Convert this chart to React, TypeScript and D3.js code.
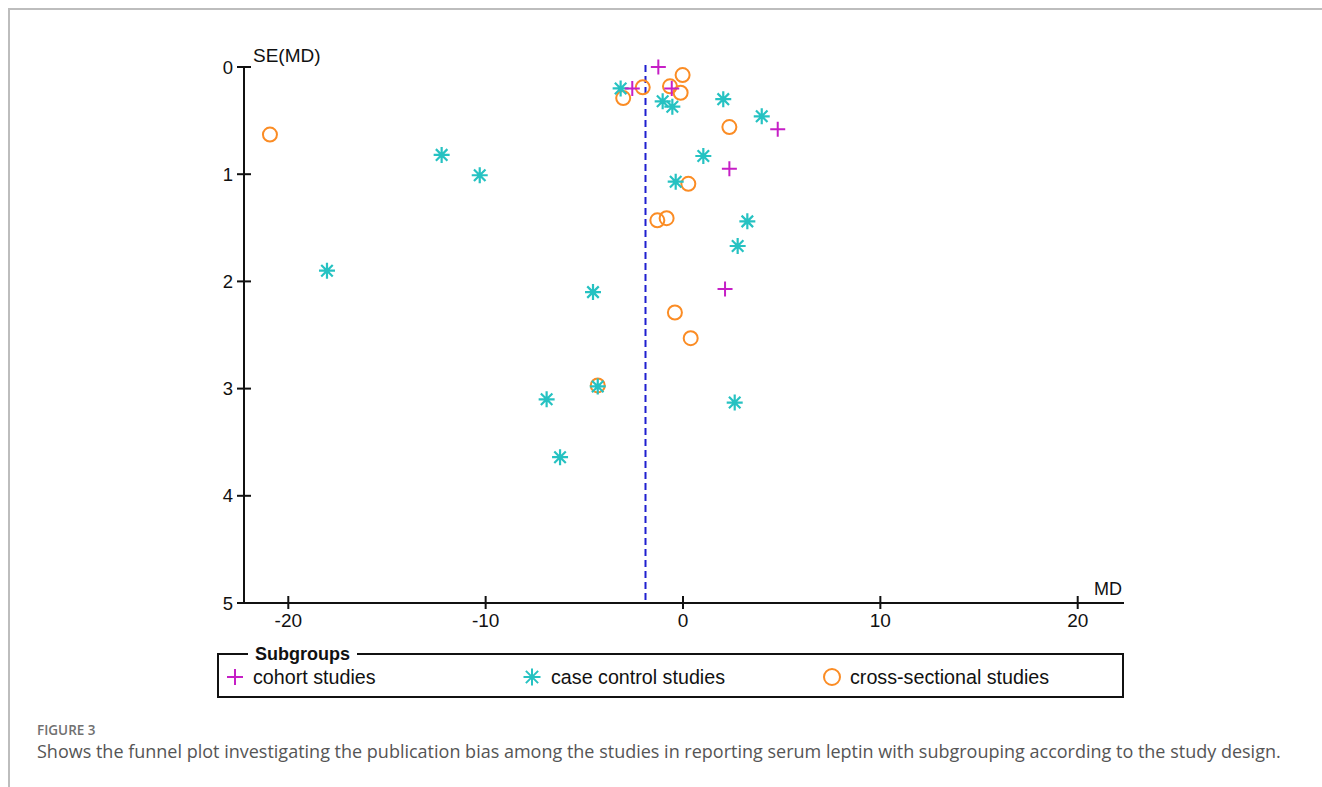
import React from 'react';
import * as d3 from 'd3';

// MD and SE(MD), one array per subgroup
const cohortMD = [-1.25, -2.57, -0.57, 4.8, 2.35, 2.13];
const cohortSE = [0.0, 0.2, 0.2, 0.58, 0.95, 2.07];

const caseMD = [-3.16, -1.03, -0.54, 2.04, 3.99, -12.23, -10.3, 1.03, -0.37, 3.26, 2.77, -18.04, -4.56, -4.32, -6.91, 2.62, -6.23];
const caseSE = [0.2, 0.32, 0.37, 0.3, 0.46, 0.82, 1.01, 0.83, 1.07, 1.44, 1.67, 1.9, 2.1, 2.98, 3.1, 3.13, 3.64];

const crossMD = [-0.02, -2.04, -3.03, -0.66, -0.12, -20.93, 2.35, 0.27, -1.3, -0.83, -0.41, 0.39, -4.32];
const crossSE = [0.075, 0.19, 0.29, 0.18, 0.24, 0.63, 0.56, 1.09, 1.43, 1.41, 2.29, 2.53, 2.97];

const pooledMD = -1.9;

const xTicks = [-20, -10, 0, 10, 20];
const yTicks = [0, 1, 2, 3, 4, 5];

const subgroupNames = ['cohort studies', 'case control studies', 'cross-sectional studies'];

const MAGENTA = '#c61fc6';
const TEAL = '#26c2c2';
const ORANGE = '#fb8c24';
const FONT = 'Arial, "Liberation Sans", sans-serif';

const plusPath = (s: number) => `M${-s},0H${s}M0,${-s}V${s}`;
const starPath = (s: number) => {
  const d = s * 0.72;
  return `M${-s},0H${s}M0,${-s}V${s}M${-d},${-d}L${d},${d}M${-d},${d}L${d},${-d}`;
};

const App: React.FC = () => {
  const width = 1322;
  const height = 787;

  const x = d3.scaleLinear().domain([-20, 20]).range([288.3, 1077.7]);
  const y = d3.scaleLinear().domain([0, 5]).range([67, 603]);

  const axisX = 244;
  const axisY = y(5);
  const xEnd = 1124;

  const legY = 654;
  const legH = 43;
  const legX = 218;
  const legW = 905;
  const itemY = legY + 23;

  return (
    <svg
      width={width}
      height={height}
      style={{ position: 'absolute', left: 0, top: 0, background: '#fff' }}
      fontFamily={FONT}
    >
      {/* page frame */}
      <path d={`M9,${height + 5}V9H${width + 5}`} fill="none" stroke="#bdbdbd" strokeWidth={2} />

      {/* y axis */}
      <line x1={axisX} x2={axisX} y1={y(0)} y2={axisY} stroke="#111" strokeWidth={2} />
      {yTicks.map(t => (
        <g key={`y${t}`}>
          <line x1={axisX - 7} x2={axisX + 7} y1={y(t)} y2={y(t)} stroke="#111" strokeWidth={2} />
          <text x={233} y={y(t)} dy="0.36em" textAnchor="end" fontSize={18.5} fill="#111">
            {t}
          </text>
        </g>
      ))}
      <text x={253} y={62} fontSize={19} fill="#111">SE(MD)</text>

      {/* x axis */}
      <line x1={axisX} x2={xEnd} y1={axisY} y2={axisY} stroke="#111" strokeWidth={2} />
      {xTicks.map(t => (
        <g key={`x${t}`}>
          <line x1={x(t)} x2={x(t)} y1={axisY - 7} y2={axisY + 6} stroke="#111" strokeWidth={2} />
          <text x={x(t)} y={627} textAnchor="middle" fontSize={19} fill="#111">
            {t}
          </text>
        </g>
      ))}
      <text x={1122} y={595} textAnchor="end" fontSize={18} fill="#111">MD</text>

      {/* pooled estimate */}
      <line
        x1={x(pooledMD)}
        x2={x(pooledMD)}
        y1={y(0) - 2}
        y2={axisY}
        stroke="#1f1fcf"
        strokeWidth={2}
        strokeDasharray="7,4"
      />

      {/* points */}
      <g fill="none">
        {crossMD.map((v, i) => (
          <circle key={`o${i}`} cx={x(v)} cy={y(crossSE[i])} r={7} stroke={ORANGE} strokeWidth={2} />
        ))}
        {caseMD.map((v, i) => (
          <path
            key={`s${i}`}
            d={starPath(8)}
            transform={`translate(${x(v)},${y(caseSE[i])})`}
            stroke={TEAL}
            strokeWidth={2.2}
          />
        ))}
        {cohortMD.map((v, i) => (
          <path
            key={`p${i}`}
            d={plusPath(7.5)}
            transform={`translate(${x(v)},${y(cohortSE[i])})`}
            stroke={MAGENTA}
            strokeWidth={2}
          />
        ))}
      </g>

      {/* legend */}
      <path
        d={`M248,${legY}H${legX}V${legY + legH}H${legX + legW}V${legY}H357`}
        fill="none"
        stroke="#111"
        strokeWidth={2}
      />
      <text x={255} y={legY} dy="0.36em" fontSize={18} fontWeight="bold" fill="#111">Subgroups</text>
      <path d={plusPath(8)} transform={`translate(235,${itemY})`} stroke={MAGENTA} strokeWidth={2} fill="none" />
      <text x={253} y={itemY} dy="0.36em" fontSize={19.7} fill="#111">{subgroupNames[0]}</text>
      <path d={starPath(8.5)} transform={`translate(532,${itemY})`} stroke={TEAL} strokeWidth={2} fill="none" />
      <text x={551} y={itemY} dy="0.36em" fontSize={19.7} fill="#111">{subgroupNames[1]}</text>
      <circle cx={832} cy={itemY} r={8} stroke={ORANGE} strokeWidth={2} fill="none" />
      <text x={850} y={itemY} dy="0.36em" fontSize={19.7} fill="#111">{subgroupNames[2]}</text>

      {/* caption */}
      <text x={37} y={735} fontSize={13.5} fontWeight={600} fill="#707070" fontFamily='"Open Sans", sans-serif'>
        FIGURE 3
      </text>
      <text x={37} y={758} fontSize={18} fill="#555" fontFamily='"Open Sans", sans-serif'>
        Shows the funnel plot investigating the publication bias among the studies in reporting serum leptin with subgrouping according to the study design.
      </text>
    </svg>
  );
};

export default App;
